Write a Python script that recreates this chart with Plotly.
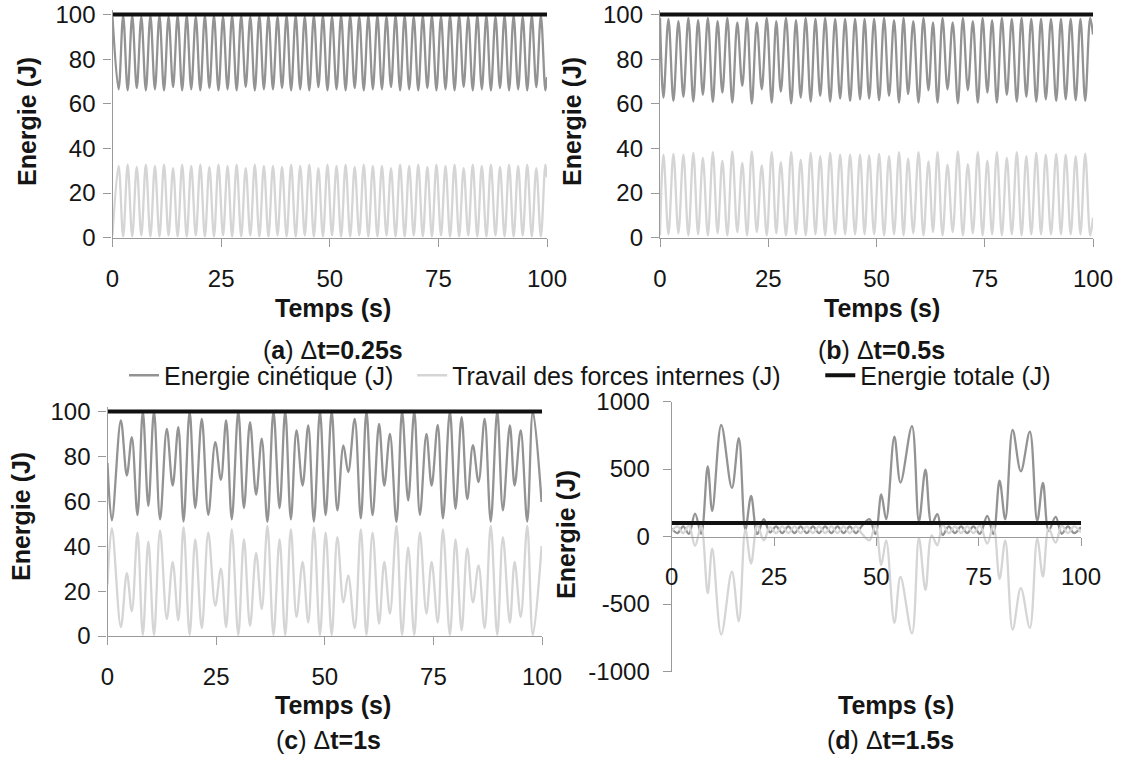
import plotly.graph_objects as go

# ---------------- DATA ----------------
# Panel (a) dt = 0.25 s : extrema of the curves
t_a = [0.0, 1.40, 2.45, 3.49, 4.54, 5.58, 6.63, 7.67, 8.72, 9.76, 10.81, 11.85, 12.90, 13.94, 14.99, 16.03,
       17.08, 18.12, 19.17, 20.21, 21.26, 22.30, 23.35, 24.39, 25.44, 26.48, 27.53, 28.57, 29.62, 30.66,
       31.71, 32.75, 33.80, 34.84, 35.89, 36.93, 37.98, 39.02, 40.07, 41.11, 42.16, 43.20, 44.25, 45.29,
       46.34, 47.38, 48.43, 49.47, 50.52, 51.56, 52.61, 53.65, 54.70, 55.74, 56.79, 57.83, 58.88, 59.92,
       60.97, 62.01, 63.06, 64.10, 65.15, 66.19, 67.24, 68.28, 69.33, 70.37, 71.42, 72.46, 73.51, 74.55,
       75.60, 76.64, 77.69, 78.73, 79.78, 80.82, 81.87, 82.91, 83.96, 85.00, 86.05, 87.09, 88.14, 89.18,
       90.23, 91.27, 92.32, 93.36, 94.41, 95.45, 96.50, 97.54, 98.59, 99.63, 100.0]
ke_a = [99.0, 66.5, 99.5, 66.0, 99.5, 67.0, 99.0, 66.0, 99.5, 66.5, 99.5, 66.0, 99.0, 67.5, 99.5, 66.0,
        99.5, 66.5, 99.0, 66.0, 99.5, 67.0, 99.5, 66.0, 99.0,
        66.5, 99.5, 66.0, 99.5, 67.5, 99.0, 66.0, 99.5, 66.5, 99.5, 66.5, 99.0, 67.0, 99.5, 66.0, 99.5,
        66.5, 99.0, 66.0, 99.5, 67.5, 99.5, 66.0, 99.0,
        66.5, 99.5, 66.0, 99.5, 67.0, 99.0, 66.0, 99.5, 66.5, 99.5, 66.5, 99.0, 67.5, 99.5, 66.0, 99.5,
        66.5, 99.0, 66.0, 99.5, 67.0, 99.5, 66.0, 99.0,
        66.5, 99.5, 66.0, 99.5, 67.5, 99.0, 66.0, 99.5, 66.5, 99.5, 66.0, 99.0, 67.0, 99.5, 66.0, 99.5,
        66.5, 99.0, 66.0, 99.5, 67.5, 99.5, 66.0, 72.0]
wi_a = [1.0, 32.2, 0.5, 32.7, 0.5, 31.7, 1.0, 32.7, 0.5, 32.2, 0.5, 32.7, 1.0, 31.2, 0.5, 32.7,
        0.5, 32.2, 1.0, 32.7, 0.5, 31.7, 0.5, 32.7, 1.0,
        32.2, 0.5, 32.7, 0.5, 31.2, 1.0, 32.7, 0.5, 32.2, 0.5, 32.2, 1.0, 31.7, 0.5, 32.7, 0.5,
        32.2, 1.0, 32.7, 0.5, 31.2, 0.5, 32.7, 1.0,
        32.2, 0.5, 32.7, 0.5, 31.7, 1.0, 32.7, 0.5, 32.2, 0.5, 32.2, 1.0, 31.2, 0.5, 32.7, 0.5,
        32.2, 1.0, 32.7, 0.5, 31.7, 0.5, 32.7, 1.0,
        32.2, 0.5, 32.7, 0.5, 31.2, 1.0, 32.7, 0.5, 32.2, 0.5, 32.7, 1.0, 31.7, 0.5, 32.7, 0.5,
        32.2, 1.0, 32.7, 0.5, 31.2, 0.5, 32.7, 27.0]

# Panel (b) dt = 0.5 s
t_b = [0.0, 0.8, 1.95, 3.1, 4.25, 5.4, 6.55, 7.7, 8.8, 9.9, 11.05, 12.2, 13.3, 14.4, 15.55, 16.7,
       17.85, 19.0, 20.1, 21.2, 22.35, 23.5, 24.65, 25.8, 26.85, 27.9, 29.1, 30.3, 31.4, 32.5, 33.65,
       34.8, 35.9, 37.0, 38.15, 39.3, 40.45, 41.6, 42.75, 43.9, 45.05, 46.2, 47.25, 48.3, 49.45, 50.6,
       51.75, 52.9, 54.05, 55.2, 56.25, 57.3, 58.5, 59.7, 60.85, 62.0, 63.05, 64.1, 65.25, 66.4, 67.6,
       68.8, 69.95, 71.1, 72.25, 73.4, 74.5, 75.6, 76.7, 77.8, 78.95, 80.1, 81.25, 82.4, 83.5, 84.6,
       85.75, 86.9, 88.0, 89.1, 90.3, 91.5, 92.6, 93.7, 94.85, 96.0, 97.1, 98.2, 99.35, 100.0]
ke_b = [98.5, 62.8, 98.0, 61.3, 97.0, 63.1, 98.5, 61.0, 97.5, 64.0, 98.5, 60.8, 97.0, 65.0, 98.5, 60.5,
        96.5, 68.0, 98.5, 60.1, 96.5, 66.5, 98.5, 60.5, 97.0, 65.5, 98.5, 60.2, 97.5, 62.8, 98.5, 61.0,
        98.0, 63.5, 98.5, 61.0, 98.0, 62.3, 98.0, 61.3, 98.0, 62.0, 98.0, 62.3, 98.0, 61.6, 98.5, 63.5,
        97.5, 60.5, 98.5, 64.3, 97.0, 60.5, 98.5, 66.1, 96.5, 60.5, 98.5, 66.5, 96.5, 60.2, 98.5, 66.1,
        97.0, 60.5, 98.5, 65.0, 97.5, 60.5, 98.5, 64.0, 98.0, 61.0, 98.5, 63.1, 98.0, 61.0, 98.0, 62.0,
        98.0, 61.3, 98.0, 62.0, 98.0, 61.6, 98.0, 61.3, 98.5, 91.0]
wi_b = [1.0, 37.2, 1.5, 37.5, 2.0, 37.2, 1.0, 38.0, 1.5, 35.7, 1.0, 38.3, 2.0, 34.5, 1.0, 38.7,
        2.5, 33.5, 1.0, 38.7, 2.5, 32.4, 1.0, 38.3, 2.0, 33.8, 1.0, 38.3, 1.5, 35.0, 1.0, 38.0,
        1.5, 36.5, 1.0, 38.0, 1.5, 37.2, 1.5, 37.2, 1.5, 37.2, 1.5, 36.9, 1.5, 37.5, 1.0, 36.5,
        1.5, 38.3, 1.0, 35.4, 2.0, 38.3, 1.0, 34.2, 2.5, 38.3, 1.0, 32.7, 2.5, 38.7, 1.0, 33.0,
        2.0, 38.3, 1.0, 34.5, 1.5, 38.3, 1.0, 35.7, 1.5, 38.3, 1.0, 36.5, 1.5, 38.0, 1.5, 37.2,
        1.5, 37.5, 1.5, 37.2, 1.5, 36.5, 1.5, 37.7, 1.0, 9.0]

# Panel (c) dt = 1 s
t_c = [0.0, 1.0, 3.07, 4.45, 5.6, 6.9, 8.13, 9.4, 10.7, 12.1, 13.65, 15.0, 16.3, 17.5, 18.9, 20.2,
       21.7, 23.2, 24.8, 26.1, 27.3, 28.6, 30.1, 31.4, 32.8, 34.2, 35.5, 36.8, 38.2, 39.6, 40.9, 42.2,
       43.5, 44.9, 46.2, 47.5, 48.9, 50.2, 51.6, 52.9, 54.3, 55.4, 56.9, 58.3, 59.6, 61.0, 62.5, 63.7,
       65.0, 66.5, 67.8, 69.2, 70.6, 71.9, 73.4, 74.6, 76.0, 77.2, 78.8, 80.1, 81.5, 82.8, 84.1, 85.4,
       86.8, 88.2, 89.7, 91.0, 92.6, 93.7, 95.1, 96.6, 97.9, 99.9]
ke_c = [77.0, 51.5, 96.0, 71.5, 88.6, 53.8, 100.0, 58.0, 100.0, 52.0, 92.3, 67.0, 93.0, 51.0, 100.0, 57.0,
        96.7, 54.0, 86.4, 69.6, 96.0, 52.0, 100.0, 57.0, 95.3, 63.0, 87.9, 50.8, 100.0, 57.0, 100.0, 52.0,
        91.6, 67.0, 93.8, 51.0, 100.0, 53.8, 100.0, 56.0, 84.9, 73.0, 96.7, 52.4, 100.0, 53.8, 94.5, 67.0,
        90.0, 50.8, 100.0, 60.4, 100.0, 54.0, 90.0, 67.0, 94.0, 52.4, 100.0, 56.7, 97.5, 61.0, 85.0, 68.6,
        96.7, 51.0, 100.0, 56.0, 93.8, 67.0, 91.6, 51.0, 100.0, 59.7]
wi_c = [23.0, 48.0, 4.0, 28.0, 11.0, 46.0, 0.5, 42.0, 0.5, 47.0, 7.5, 33.0, 7.0, 48.5, 0.5, 43.0,
        3.5, 46.0, 13.5, 30.0, 4.0, 47.5, 0.5, 43.0, 4.5, 37.0, 12.0, 49.0, 0.5, 43.0, 0.5, 47.5,
        8.5, 33.0, 6.0, 48.5, 0.5, 46.0, 0.5, 44.0, 15.0, 27.0, 3.5, 47.5, 0.5, 46.0, 5.5, 33.0,
        10.0, 49.0, 0.5, 39.5, 0.5, 46.0, 10.0, 33.0, 6.0, 47.5, 0.5, 43.0, 2.5, 39.0, 15.0, 31.5,
        3.5, 49.0, 0.5, 44.0, 6.0, 33.0, 8.5, 49.0, 0.5, 40.0]

# Panel (d) dt = 1.5 s
t_d = [0.0, 1.4, 2.8, 4.2, 5.7, 7.2, 8.8, 9.9, 12.1, 14.7, 16.4, 18.0, 19.4, 20.9, 22.5, 24.0,
       25.5, 27.0, 28.5, 30.0, 31.5, 33.0, 34.5, 36.0, 37.5, 39.0, 40.5, 42.0, 43.5, 45.0, 46.5,
       48.3, 49.8, 51.2, 52.4, 54.4, 55.9, 58.7, 60.4, 62.0, 63.5, 64.9, 66.2, 67.7, 69.2, 70.7,
       72.2, 73.7, 75.3, 77.1, 78.6, 80.1, 81.5, 83.3, 85.3, 87.5, 89.3, 90.7, 92.1, 93.8, 95.3,
       96.8, 98.3, 100.0]
ke_d = [60, 25, 75, 20, 169, 20, 520, 190, 826, 360, 728, 50, 300, 18, 128, 30,
        75, 25, 75, 25, 75, 25, 75, 25, 75, 25, 75, 25, 75, 25, 80,
        128, 18, 311, 128, 740, 400, 818, 110, 495, 91, 165, 10, 75, 25, 75,
        25, 75, 20, 152, 18, 414, 128, 789, 483, 777, 115, 397, 42, 145, 20,
        75, 25, 70]
wi_d = [40, 75, 25, 80, -69, 80, -420, -90, -726, -260, -628, 50, -200, 82, -28, 70,
        25, 75, 25, 75, 25, 75, 25, 75, 25, 75, 25, 75, 25, 75, 20,
        -28, 82, -211, -28, -640, -300, -718, -10, -395, 9, -65, 90, 25, 75, 25,
        75, 25, 80, -52, 82, -314, -28, -689, -383, -677, -15, -297, 58, -45, 80,
        25, 75, 30]

t_total = [0, 100]
e_total = [100, 100]

tick_x = [0, 25, 50, 75, 100]
tick_y_small = [0, 20, 40, 60, 80, 100]
tick_y_big = [-1000, -500, 0, 500, 1000]
tick_y_big_text = ["-1000", "-500", "0", "500", "1000"]

names = ["Energie cinétique (J)", "Travail des forces internes (J)", "Energie totale (J)"]
captions = ["(<b>a</b>) Δ<b>t=0.25s</b>", "(<b>b</b>) Δ<b>t=0.5s</b>",
            "(<b>c</b>) Δ<b>t=1s</b>", "(<b>d</b>) Δ<b>t=1.5s</b>"]

# ---------------- LAYOUT HELPERS ----------------
W, H = 1121, 760
def px(x):
    return x / W
def py(y):
    return 1 - y / H

C_KE = "#939393"
C_WI = "#d5d5d5"
C_TOT = "#111111"
FONT = "Liberation Sans, Arial, sans-serif"
TXT = "#151515"
NB = "\u00a0"

fig = go.Figure()

panels = [
    ("x", "y", t_a, ke_a, wi_a),
    ("x2", "y2", t_b, ke_b, wi_b),
    ("x3", "y3", t_c, ke_c, wi_c),
    ("x4", "y4", t_d, ke_d, wi_d),
]
legend_names = [names[0] + NB * 2, names[1] + NB * 5, names[2]]
for i, (xa, ya, t, ke, wi) in enumerate(panels):
    show = (i == 0)
    fig.add_trace(go.Scatter(x=t, y=ke, mode="lines", name=legend_names[0], legendgroup="ke",
                             showlegend=show, xaxis=xa, yaxis=ya,
                             line=dict(color=C_KE, width=2.3, shape="spline", smoothing=1)))
    fig.add_trace(go.Scatter(x=t, y=wi, mode="lines", name=legend_names[1], legendgroup="wi",
                             showlegend=show, xaxis=xa, yaxis=ya,
                             line=dict(color=C_WI, width=2.3, shape="spline", smoothing=1)))
for i, (xa, ya, t, ke, wi) in enumerate(panels):
    fig.add_trace(go.Scatter(x=t_total, y=e_total, mode="lines", name=legend_names[2],
                             legendgroup="tot", showlegend=(i == 0), xaxis=xa, yaxis=ya,
                             line=dict(color=C_TOT, width=4)))

axis_common = dict(showline=True, linecolor="#9a9a9a", linewidth=1.3, ticks="outside",
                   ticklen=8, tickcolor="#9a9a9a", tickwidth=1.3, showgrid=False, zeroline=False,
                   automargin=False,
                   tickfont=dict(size=24, color=TXT, family=FONT))

def ydom(y0px, ytoppx):
    return [py(y0px), py(ytoppx)]

# pixel geometry (a),(b): 0 -> 237.7, 100 -> 14.5
sa = (237.7 - 14.5) / 100
top_ab = 237.7 - 102 * sa
sc = (636 - 411.5) / 100
top_c = 636 - 102 * sc

layout = dict(
    width=W, height=H, margin=dict(l=0, r=0, t=0, b=0, autoexpand=False),
    paper_bgcolor="white", plot_bgcolor="white",
    font=dict(family=FONT, size=24, color=TXT),
    showlegend=True,
    legend=dict(orientation="h", x=px(124), xanchor="left", y=py(375.5), yanchor="middle",
                font=dict(size=25, color=TXT), bgcolor="rgba(0,0,0,0)", itemwidth=30,
                tracegroupgap=0),
    xaxis=dict(domain=[px(112.5), px(547)], range=[0, 100], tickvals=tick_x, anchor="y",
               ticklabelstandoff=11, **axis_common),
    yaxis=dict(domain=ydom(237.7, top_ab), range=[0, 102], tickvals=tick_y_small, anchor="x",
               ticklabelstandoff=3, **axis_common),
    xaxis2=dict(domain=[px(660), px(1093)], range=[0, 100], tickvals=tick_x, anchor="y2",
                ticklabelstandoff=11, **axis_common),
    yaxis2=dict(domain=ydom(237.7, top_ab), range=[0, 102], tickvals=tick_y_small, anchor="x2",
                ticklabelstandoff=3, **axis_common),
    xaxis3=dict(domain=[px(107.5), px(542)], range=[0, 100], tickvals=tick_x, anchor="y3",
                ticklabelstandoff=11, **axis_common),
    yaxis3=dict(domain=ydom(636, top_c), range=[0, 102], tickvals=tick_y_small, anchor="x3",
                ticklabelstandoff=3, **axis_common),
    xaxis4=dict(domain=[px(671.7), px(1081)], range=[0, 100], tickvals=tick_x, anchor="free",
                position=py(536.5), ticklabelstandoff=11, **axis_common),
    yaxis4=dict(domain=ydom(671.5, 401.5), range=[-1000, 1000], tickvals=tick_y_big,
                ticktext=tick_y_big_text, anchor="x4", ticklabelstandoff=8, **axis_common),
)
fig.update_layout(**layout)

ann = []
def text(x, y, s, size=25, angle=0):
    ann.append(dict(x=px(x), y=py(y), xref="paper", yref="paper", text=s, showarrow=False,
                    xanchor="center", yanchor="middle", textangle=angle,
                    font=dict(size=size, family=FONT, color=TXT)))

# axis titles
for (x, y) in [(27, 122), (572, 122), (21, 517), (566, 535)]:
    text(x, y, "<b>Energie (J)</b>", 25, -90)
for (x, y) in [(333, 308), (882, 308), (333, 705), (896, 705)]:
    text(x, y, "<b>Temps (s)</b>", 25)
for (x, y), cap in zip([(333, 350), (881, 350), (328, 740), (890, 740)], captions):
    text(x, y, cap, 25)
fig.update_layout(annotations=ann)

fig.write_html("out.html", config={"displayModeBar": False},
               post_script="document.body.style.margin='0px';document.body.style.overflow='hidden';")
